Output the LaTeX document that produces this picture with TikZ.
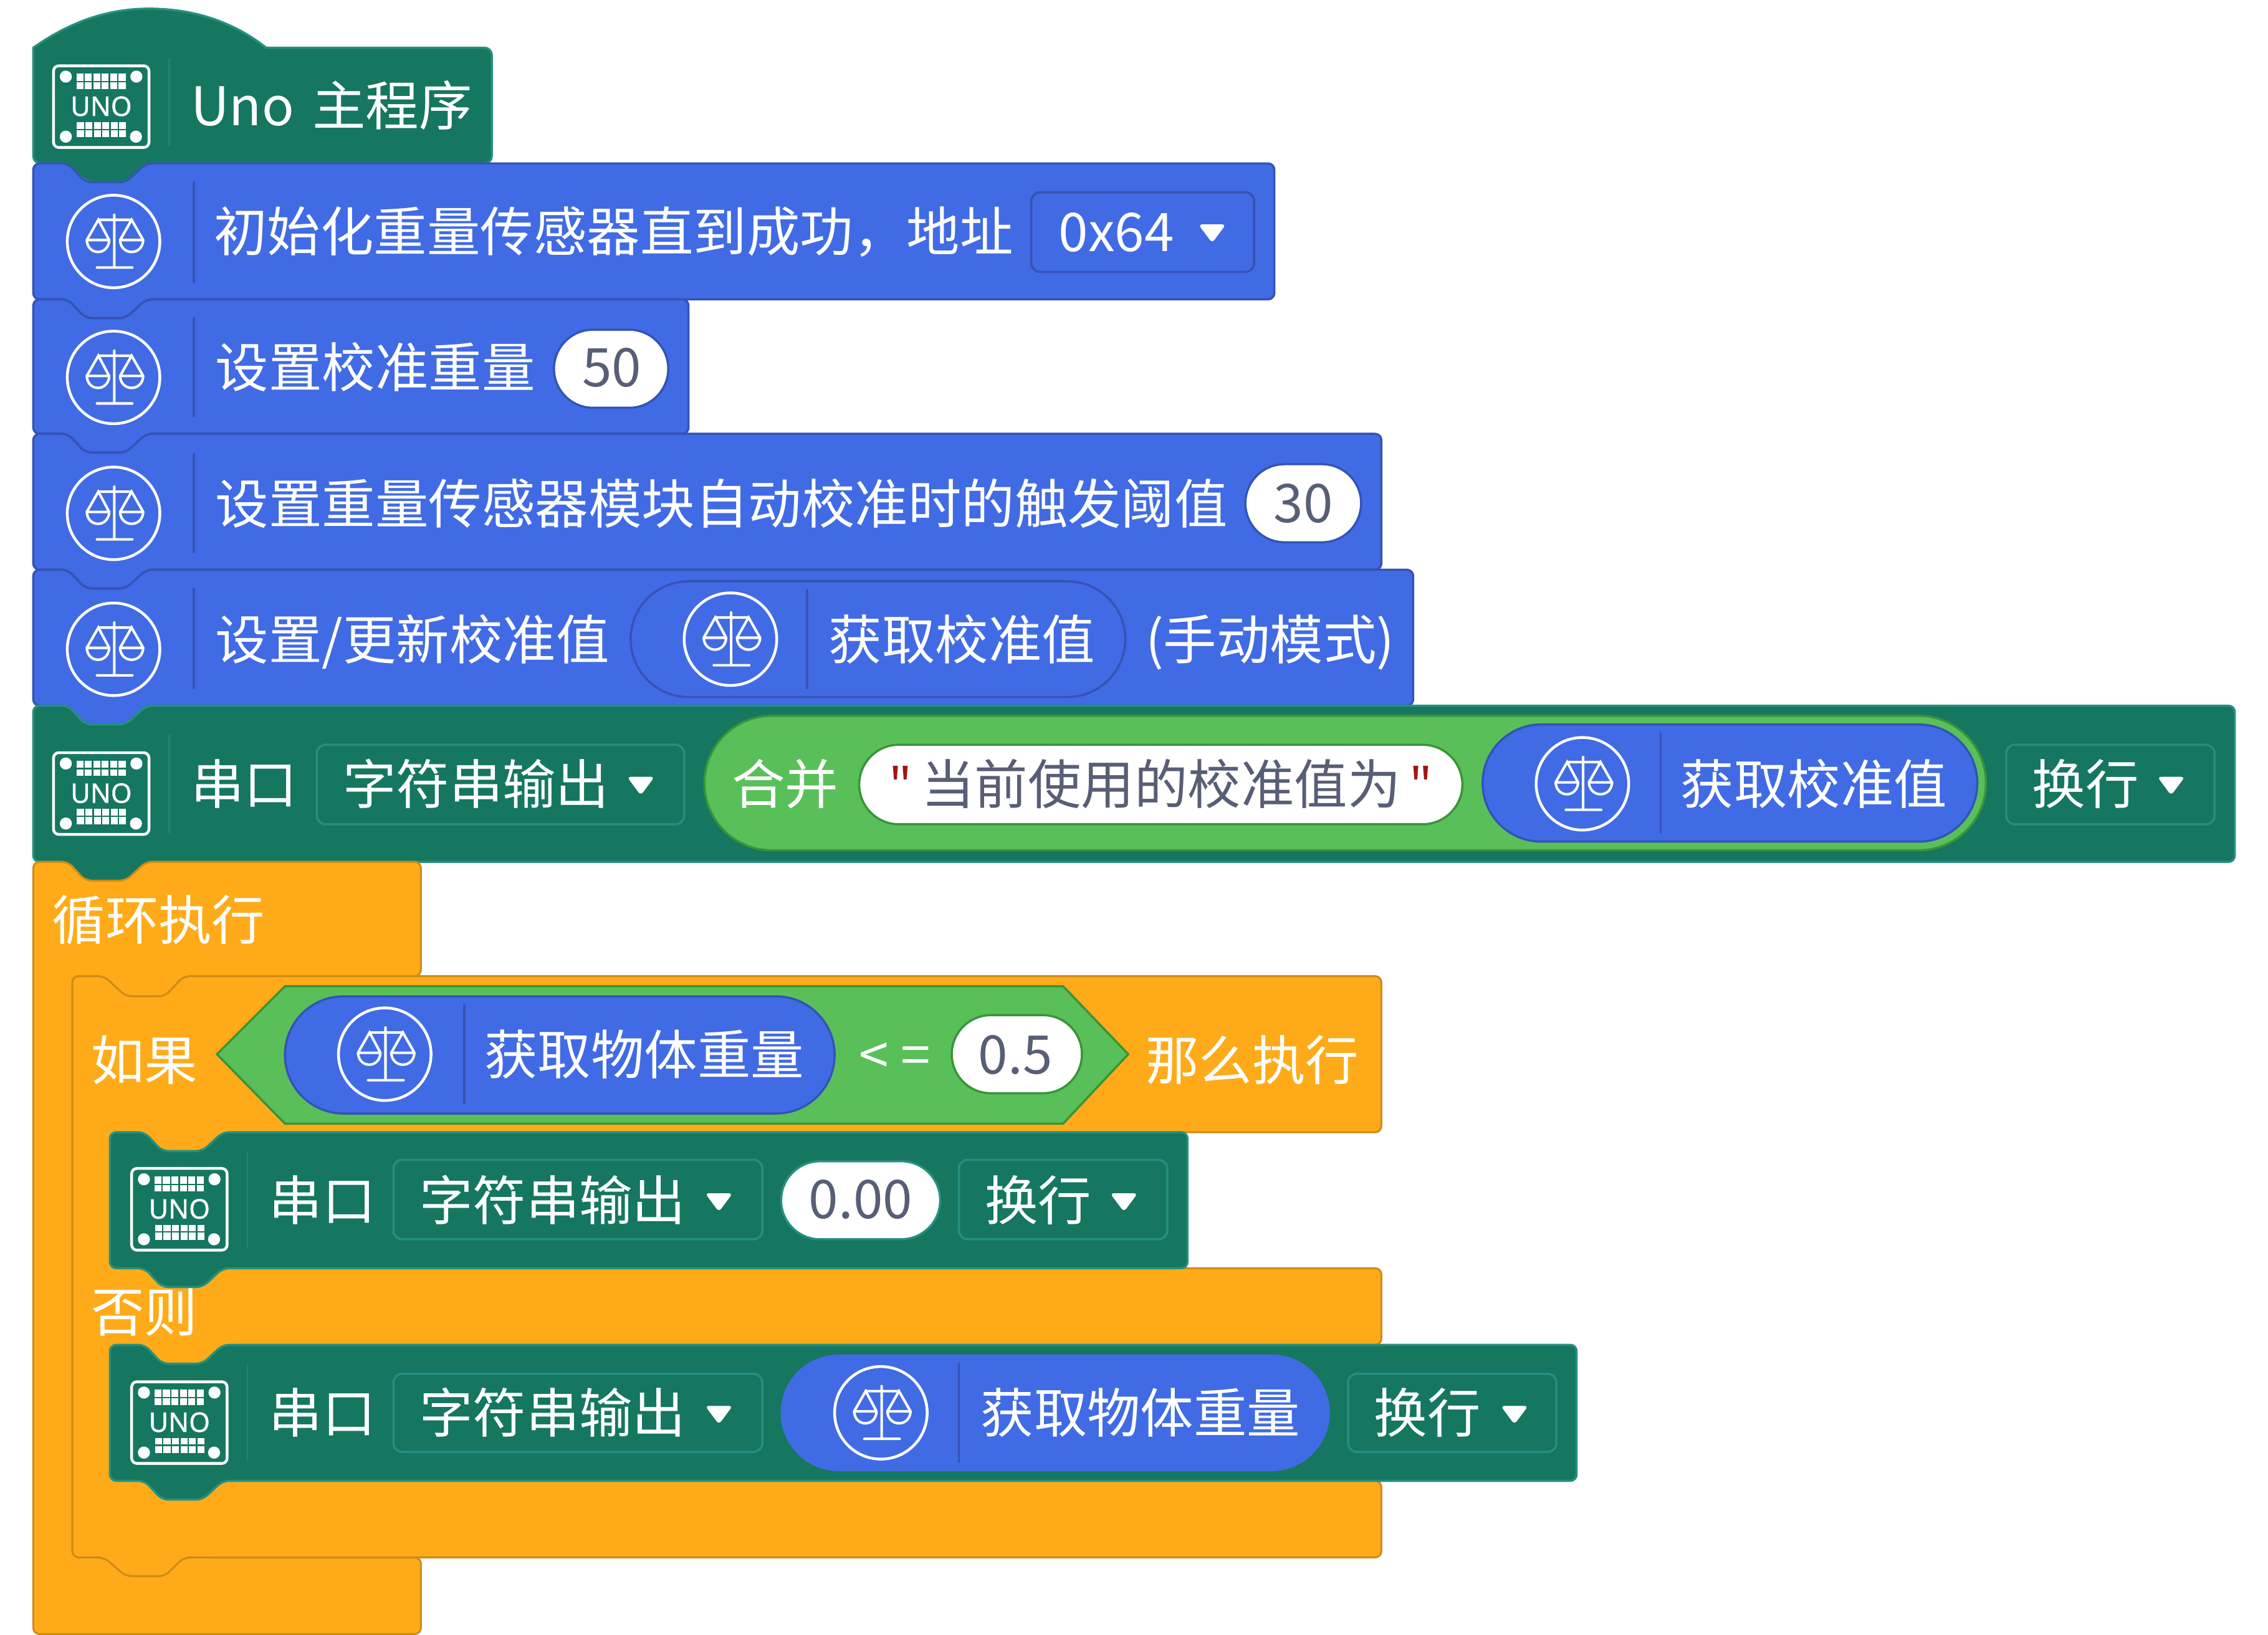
\documentclass[tikz,border=0pt]{standalone}
\usepackage{fontspec}
\setmainfont{Noto Sans CJK SC}
\newfontfamily\unofont{Noto Sans}
\newfontfamily\unobold[FakeBold=0.8]{Noto Sans}
\definecolor{tealf}{HTML}{157760}
\definecolor{teald}{HTML}{25907F}
\definecolor{bluef}{HTML}{416BE4}
\definecolor{blued}{HTML}{3453B5}
\definecolor{orgf}{HTML}{FFAB19}
\definecolor{orgd}{HTML}{CF8B17}
\definecolor{grnf}{HTML}{59C059}
\definecolor{grnd}{HTML}{389438}
\definecolor{numc}{HTML}{575E75}
\definecolor{quot}{HTML}{A31515}
\tikzset{
  tealblk/.style={fill=tealf,draw=teald,line width=0.9pt,line join=round},
  blueblk/.style={fill=bluef,draw=blued,line width=0.9pt,line join=round},
  orgblk/.style={fill=orgf,draw=orgd,line width=0.8pt,line join=round},
  grnblk/.style={fill=grnf,draw=grnd,line width=0.9pt,line join=round},
  whitepill/.style={fill=white,draw=#1,line width=0.9pt},
  ddbox/.style={draw=teald,line width=0.9pt,rounded corners=3.6pt},
  ddboxb/.style={draw=blued,line width=0.9pt,rounded corners=3.6pt},
  lbl/.style={anchor=base west,inner sep=0pt,outer sep=0pt,text=white,font=\fontsize{22.1}{26}\selectfont},
  numl/.style={anchor=base,inner sep=0pt,outer sep=0pt,text=numc,font=\fontsize{22.1}{26}\selectfont},
  icn/.style={draw=white,line width=1.15pt},
  divt/.style={draw=teald!55!tealf,line width=0.7pt},
  divb/.style={draw=blued,line width=0.8pt,line cap=round},
}
% block with notch on top and tab at bottom: style,x0,x1,y0,y1
\newcommand\blk[5]{%
  \pgfmathsetmacro\xa{#2+24}\pgfmathsetmacro\xb{#2+36}%
  \pgfmathsetmacro\xc{#2+64}\pgfmathsetmacro\xd{#2+78}%
  \pgfmathsetmacro\yn{#4+13}\pgfmathsetmacro\yt{#5+13}%
  \draw[#1,rounded corners=2.6pt] (#2,#4) -- (\xa,#4) -- (\xb,\yn) -- (\xc,\yn) -- (\xd,#4)
    -- (#3,#4) -- (#3,#5) -- (\xd,#5) -- (\xc,\yt) -- (\xb,\yt) -- (\xa,#5) -- (#2,#5) -- cycle;}
% pill: style,x0,x1,y0,y1
\newcommand\pill[5]{%
  \pgfmathsetmacro\rr{(#5-#4)*0.3}%
  \draw[#1,rounded corners=\rr pt] (#2,#4) rectangle (#3,#5);}
% dropdown triangle
\newcommand\ddarrow[2]{%
  \fill[white,rounded corners=1.6pt,shift={(#1,#2)}] (-9.5,-5.8) -- (9.5,-5.8) -- (0,7) -- cycle;}
% text: name,x,ycentre,text
\newcommand\btext[4]{%
  \pgfmathsetmacro\yb{#3+14}\pgfmathsetmacro\xl{#2-1}%
  \node[lbl] (#1) at (\xl,\yb) {#4};}
\newcommand\ntext[4]{%
  \pgfmathsetmacro\yb{#3+12.5}%
  \node[numl] (#1) at (#2,\yb) {#4};}
% balance icon
\newcommand\scaleicon[2]{%
  \begin{scope}[shift={(#1,#2)}]
    \draw[icn] (0,0) circle[radius=19.2pt];
    \draw[icn,line width=1.05pt,line cap=round] (0.5,-18.5) -- (0.5,18)
      (-11.5,18) -- (13,18) (-10.5,-15) -- (12.5,-15)
      (-18.5,-1) -- (-10.5,-15) -- (-3,-1) (4.5,-1) -- (12.5,-15) -- (20.5,-1)
      (-18.5,-1) -- (-3,-1) (4.5,-1) -- (20.5,-1)
      (-18.5,-1) .. controls (-18,10) and (-3.5,10) .. (-3,-1)
      (4.5,-1) .. controls (5,10) and (20,10) .. (20.5,-1);
  \end{scope}}
% UNO icon: name, dx, dy from the hat icon
\newcommand\unoicon[3]{%
  \begin{scope}[shift={(#2,#3)}]
    \draw[icn,rounded corners=2.2pt] (37,45.5) rectangle (103,102);
    \fill[white] (45.5,53) circle[radius=2.5pt] (94.3,53) circle[radius=2.5pt]
      (45.5,94.5) circle[radius=2.5pt] (94,94.5) circle[radius=2.5pt];
    \foreach \cx in {0,1,2,3,4,5}{
      \fill[white] ({52.8+\cx*5.85},51) rectangle ({57.6+\cx*5.85},56);
      \fill[white] ({52.8+\cx*5.85},57) rectangle ({57.6+\cx*5.85},61.5);
      \fill[white] ({53.2+\cx*5.85},84.5) rectangle ({58+\cx*5.85},89);
      \fill[white] ({53.2+\cx*5.85},90) rectangle ({58+\cx*5.85},95);
    }
    \node[inner sep=0pt,text=white,font=\unobold\fontsize{11.2}{13}\selectfont] (#1) at (70,73.5) {UNO};
  \end{scope}}
\begin{document}
\begin{tikzpicture}[x=0.6pt,y=-0.6pt]
\useasboundingbox (0,0) rectangle (1568,1130.6);

% hat
\draw[tealblk] (23,33) .. controls (50,14) and (76,6) .. (103,6) .. controls (132,6) and (160,14) .. (184,33)
  [rounded corners=3pt] -- (340,33) -- (340,113) -- (101,113) -- (87,126) -- (60,126) -- (46,113) -- (23,113) [sharp corners] -- cycle;
\draw[divt] (117,40) -- (117,101);
\unoicon{unoA}{0}{0}
\btext{hattxt}{133}{73}{Uno\hspace{2.6pt} 主程序}

% blue 1
\blk{blueblk}{23}{881}{113}{207}
\draw[divb] (134,126) -- (134,195);
\scaleicon{78.5}{167}
\btext{t1}{149}{160}{初始化重量传感器直到成功，地址}
\draw[ddboxb] (713,133) rectangle (867,188);
\btext{addr}{733}{160}{0x64}
\ddarrow{838}{161}

% blue 2
\blk{blueblk}{23}{476}{207}{300}
\draw[divb] (134,220) -- (134,288);
\scaleicon{78.5}{261}
\btext{t2}{150}{254}{设置校准重量}
\pill{whitepill=blued}{383}{462}{228}{282}
\ntext{v50}{423}{255}{50}

% blue 3
\blk{blueblk}{23}{955}{300}{394}
\draw[divb] (134,314) -- (134,382);
\scaleicon{78.5}{355}
\btext{t3}{150}{348}{设置重量传感器模块自动校准时的触发阈值}
\pill{whitepill=blued}{861}{941}{321}{375}
\ntext{v30}{901}{349}{30}

% blue 4
\blk{blueblk}{23}{977}{394}{488}
\draw[divb] (134,407) -- (134,476);
\scaleicon{78.5}{449}
\btext{t4}{150}{442}{设置/更新校准值}
\pill{fill=bluef,draw=blued,line width=0.9pt}{436}{778}{402}{482}
\scaleicon{505}{442}
\draw[divb] (558,408) -- (558,476);
\btext{t4b}{574}{442}{获取校准值}
\btext{t4c}{793}{442}{(手动模式)}

% teal 5
\blk{tealblk}{23}{1545}{488}{596}
\draw[divt] (117,508) -- (117,576);
\unoicon{unoB}{0}{475}
\btext{t5}{133}{542}{串口}
\draw[ddbox] (219,515) rectangle (473,570);
\btext{t5b}{238}{542}{字符串输出}
\ddarrow{443}{543}
\pill{grnblk}{487}{1373}{495}{588}
\btext{t5c}{507}{542}{合并}
\pill{whitepill=grnd}{594}{1011}{515}{570}
\node[lbl,text=quot,font=\unofont\fontsize{22.1}{26}\selectfont] (q1) at (615,556) {"};
\node[lbl,text=quot,font=\unofont\fontsize{22.1}{26}\selectfont] (q2) at (975,556) {"};
\node[lbl,text=numc] (t5d) at (637,556) {当前使用的校准值为};
\pill{fill=bluef,draw=blued,line width=0.9pt}{1025}{1367}{501}{582}
\scaleicon{1094}{542}
\draw[divb] (1148,507) -- (1148,576);
\btext{t5e}{1163}{542}{获取校准值}
\draw[ddbox] (1387,515) rectangle (1531,570);
\btext{t5f}{1406}{542}{换行}
\ddarrow{1501}{543}

% loop block
\draw[orgblk,rounded corners=2.6pt] (23,596) -- (47,596) -- (59,609) -- (87,609) -- (101,596) -- (291,596) -- (291,675)
  -- (140,675) -- (140,1077) -- (291,1077) -- (291,1130) -- (23,1130) -- cycle;
\btext{lp}{37}{636}{循环执行}

% if / else block
\draw[orgblk,rounded corners=2.6pt] (50,675) -- (72,675) -- (87,689) -- (114,689) -- (127,675) -- (955,675) -- (955,783)
  -- (160,783) -- (160,877) -- (955,877) -- (955,930) -- (160,930) -- (160,1024) -- (955,1024) -- (955,1077)
  -- (127,1077) -- (114,1090) -- (87,1090) -- (72,1077) -- (50,1077) -- cycle;
\btext{iftxt}{64}{733}{如果}
\draw[grnblk,line join=miter] (150,729) -- (197,682) -- (735,682) -- (780,729) -- (735,777) -- (197,777) -- cycle;
\pill{fill=bluef,draw=blued,line width=0.9pt}{197}{577}{689}{770}
\scaleicon{266}{729}
\draw[divb] (321,695) -- (321,763);
\btext{ift2}{336}{729}{获取物体重量}
\node[lbl] (leq) at (594,743) {< =};
\pill{whitepill=grnd}{658}{748}{702}{756}
\ntext{v05}{702}{730}{0.5}
\btext{ift3}{793}{733}{那么执行}
\btext{elsetxt}{64}{907}{否则}

% inner teal 1
\blk{tealblk}{76}{821}{783}{877}
\draw[divt] (171,796) -- (171,863);
\unoicon{unoC}{54}{762.5}
\btext{s1}{187}{830}{串口}
\draw[ddbox] (272,802) rectangle (527,857);
\btext{s1b}{291}{830}{字符串输出}
\ddarrow{497}{831}
\pill{whitepill=teald}{540}{650}{803}{857}
\ntext{v000}{595}{830}{0.00}
\draw[ddbox] (663,802) rectangle (807,857);
\btext{s1c}{682}{830}{换行}
\ddarrow{777}{831}

% inner teal 2
\blk{tealblk}{76}{1090}{930}{1024}
\draw[divt] (171,943) -- (171,1010);
\unoicon{unoD}{54}{910}
\btext{s2}{187}{977}{串口}
\draw[ddbox] (272,950) rectangle (527,1004);
\btext{s2b}{291}{977}{字符串输出}
\ddarrow{497}{978}
\pill{fill=bluef,draw=bluef}{540}{919}{937}{1017}
\scaleicon{609}{977}
\draw[divb] (663,943) -- (663,1011);
\btext{s2c}{679}{977}{获取物体重量}
\draw[ddbox] (932,950) rectangle (1076,1004);
\btext{s2d}{951}{977}{换行}
\ddarrow{1047}{978}
\end{tikzpicture}
\end{document}
